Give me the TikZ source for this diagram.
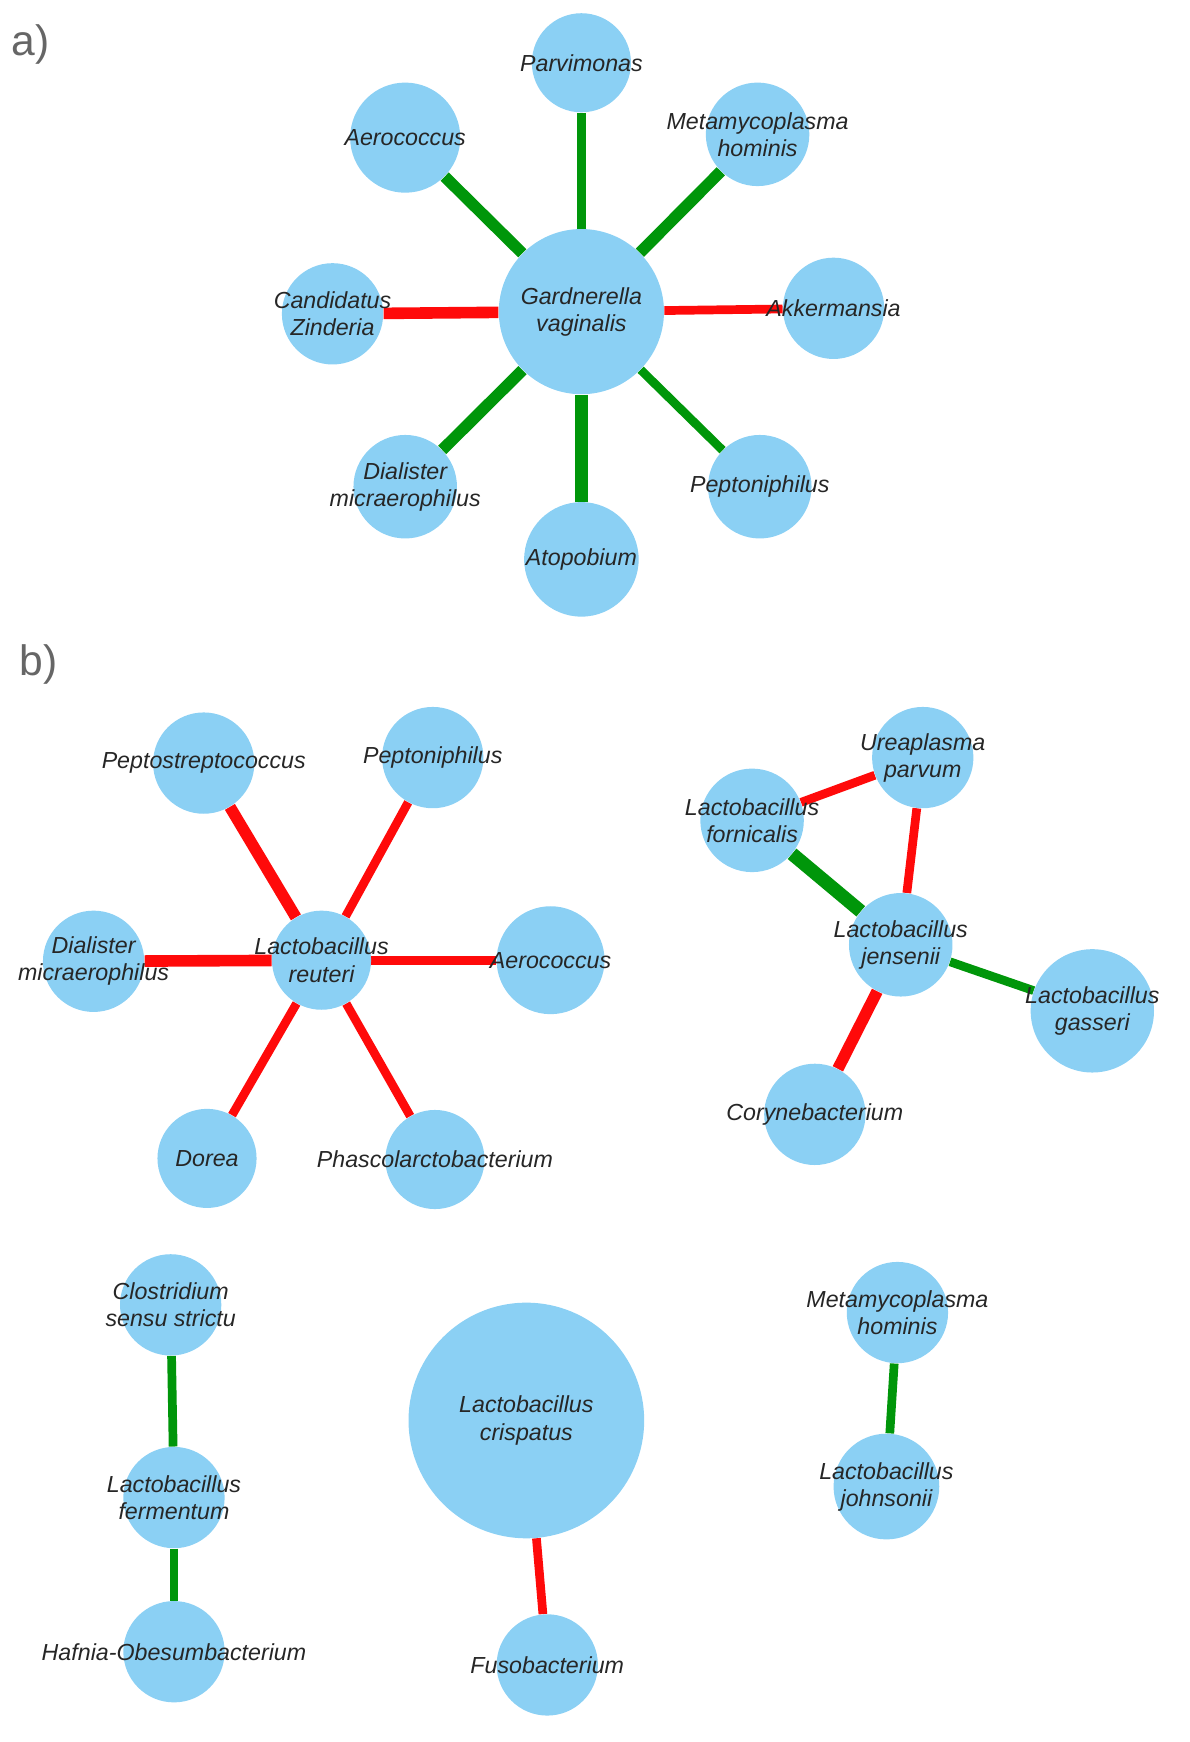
\documentclass[tikz,border=0pt]{standalone}
\usepackage{fontspec}
\setmainfont{Liberation Sans}
\usetikzlibrary{backgrounds}
\definecolor{nodeblue}{HTML}{8BD0F4}
\definecolor{posgreen}{HTML}{00960A}
\definecolor{negred}{HTML}{FF0A0A}
\begin{document}
\begin{tikzpicture}[x=0.02cm,y=-0.02cm,
  tx/.style={font=\itshape\fontsize{12}{14}\selectfont, text=black!85, align=center},
  bac/.style={circle, fill=nodeblue, inner sep=0pt},
  posl/.style={draw=posgreen, line width=6pt},
  negl/.style={draw=negred, line width=6pt},
  narrow/.style={line width=4.5pt},
  lbl/.style={font=\fontsize{22}{24}\selectfont, text=black!60}]
\useasboundingbox (0,0) rectangle (1080,1582);
\node[lbl] at (28,40) {a)};
\node[lbl] at (35,603) {b)};
% panel a
\node[bac, minimum size=150*0.02cm] (gv) at (528,283) {};
\node[tx] at (gv) {Gardnerella\\vaginalis};
\foreach \n/\x/\y/\r/\t in {pa/528/57/45/Parvimonas, ae/368/125/50/Aerococcus,
  me/688/122/47/{Metamycoplasma\\hominis}, ca/302/285/46/{Candidatus\\Zinderia},
  ak/757/280/46/Akkermansia, di/368/442/47/{Dialister\\micraerophilus},
  at/528/508/52/Atopobium, pe/690/442/47/Peptoniphilus}{
  \node[bac, minimum size=2*\r*0.02cm] (\n) at (\x,\y) {};
  \node[tx] at (\n) {\t};
}
\begin{scope}[on background layer]
\draw[posl, narrow] (gv) -- (pa);
\draw[posl] (gv) -- (ae);
\draw[posl] (gv) -- (me);
\draw[negl] (gv) -- (ca);
\draw[negl, narrow] (gv) -- (ak);
\draw[posl] (gv) -- (di);
\draw[posl, line width=7pt] (gv) -- (at);
\draw[posl, narrow] (gv) -- (pe);
\end{scope}
% panel b
\foreach \n/\x/\y/\r/\t in {lr/292/872/45/{Lactobacillus\\reuteri},
  ps/185/693/46/Peptostreptococcus, pn/393/688/46/Peptoniphilus,
  dm/85/873/46/{Dialister\\micraerophilus}, ac/500/872/49/Aerococcus,
  do/188/1052/45/Dorea, ph/395/1053/45/Phascolarctobacterium,
  lj/818/858/47/{Lactobacillus\\jensenii}, up/838/688/46/{Ureaplasma\\parvum},
  lf/683/745/47/{Lactobacillus\\fornicalis}, lg/992/918/56/{Lactobacillus\\gasseri},
  co/740/1012/46/Corynebacterium,
  cs/155/1185/46/{Clostridium\\sensu strictu}, lfe/158/1360/46/{Lactobacillus\\fermentum},
  ha/158/1500/46/Hafnia-Obesumbacterium, lc/478/1290/107/{Lactobacillus\\crispatus},
  fu/497/1512/46/Fusobacterium, mh/815/1192/46/{Metamycoplasma\\hominis},
  ljo/805/1350/48/{Lactobacillus\\johnsonii}}{
  \node[bac, minimum size=2*\r*0.02cm] (\n) at (\x,\y) {};
  \node[tx] at (\n) {\t};
}
\begin{scope}[on background layer]
\draw[negl] (lr) -- (ps);
\draw[negl, narrow] (lr) -- (pn);
\draw[negl] (lr) -- (dm);
\draw[negl, narrow] (lr) -- (ac);
\draw[negl, narrow] (lr) -- (do);
\draw[negl, narrow] (lr) -- (ph);
\draw[negl, narrow] (lf) -- (up);
\draw[negl, narrow] (lj) -- (up);
\draw[posl, line width=7pt] (lj) -- (lf);
\draw[posl, narrow] (lj) -- (lg);
\draw[negl] (lj) -- (co);
\draw[posl, narrow] (cs) -- (lfe);
\draw[posl, narrow] (lfe) -- (ha);
\draw[negl, narrow] (lc) -- (fu);
\draw[posl, narrow] (mh) -- (ljo);
\end{scope}
\end{tikzpicture}
\end{document}
